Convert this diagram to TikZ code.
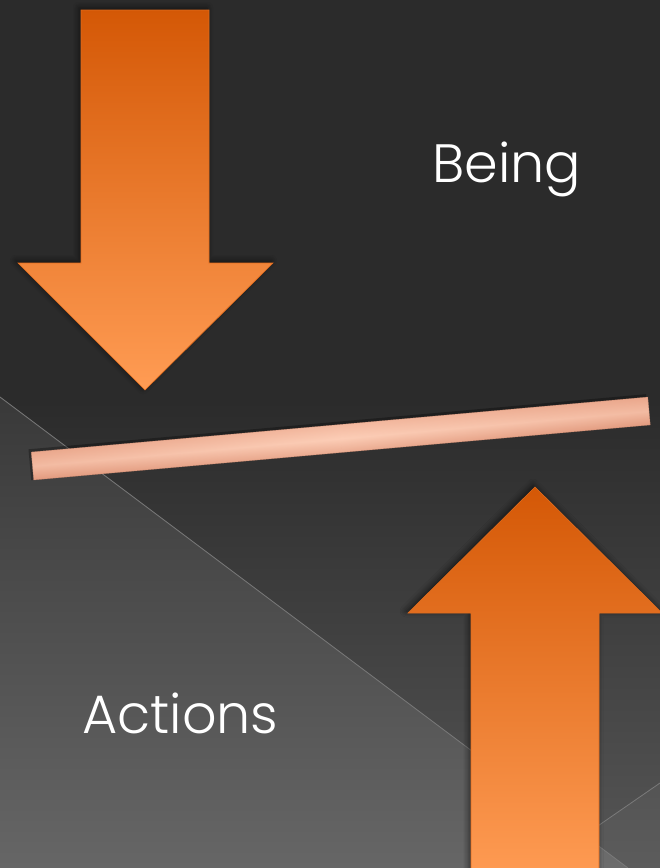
\documentclass[tikz,border=0pt]{standalone}
\usepackage{fontspec}
\newfontfamily\gothic{Poppins Light}
\usetikzlibrary{shadows.blur}
\definecolor{bgdark}{HTML}{2B2B2B}
\definecolor{bgbottom}{HTML}{565656}
\definecolor{lowtop}{HTML}{393939}
\definecolor{lowbottom}{HTML}{666666}
\definecolor{seam}{HTML}{7A7A7A}
\definecolor{ordark}{HTML}{D45806}
\definecolor{orlight}{HTML}{FF9C54}
\definecolor{bartop}{HTML}{EFAF94}
\definecolor{barmid}{HTML}{FCCDB6}
\definecolor{barbot}{HTML}{E29A7E}
\tikzset{
  bigarrow/.style={top color=ordark, bottom color=orlight, draw=ordark!70!orlight, line width=0.6pt,
    blur shadow={shadow xshift=-2pt, shadow yshift=2pt, shadow blur steps=6, shadow blur radius=6pt, shadow opacity=60}},
  label/.style={text=white, font=\gothic\fontsize{54}{58}\selectfont, inner sep=0pt, anchor=base west},
  seamline/.style={draw=seam, line width=0.8pt}
}
\begin{document}
\begin{tikzpicture}[x=1pt,y=1pt]
\useasboundingbox (0,0) rectangle (660,-868);
% background
\fill[bgdark] (0,0) rectangle (660,-400);
\shade[top color=bgdark, bottom color=bgbottom] (0,-400) rectangle (660,-868);
\shade[top color=lowtop, bottom color=lowbottom] (0,-397) -- (628,-868) -- (0,-868) -- cycle;
\fill[white, opacity=0.04] (537,-868) -- (660,-783) -- (660,-868) -- cycle;
\coordinate (s1) at (0,-397);
\coordinate (s2) at (628,-868);
\coordinate (s3) at (537,-868);
\coordinate (s4) at (660,-783);
\draw[seamline] (s1) -- (s2);
\draw[seamline] (s3) -- (s4);
% down arrow
\path[bigarrow] (81,-10) -- (209,-10) -- (209,-263) -- (273,-263) -- (145,-390) -- (18,-263) -- (81,-263) -- cycle;
% up arrow
\path[bigarrow] (535,-487) -- (662,-613) -- (599,-613) -- (599,-880) -- (471,-880) -- (471,-613) -- (408,-613) -- cycle;
% bar
\begin{scope}[transform canvas={shift={(340.75pt,-438.5pt)}, rotate=5.1}]
  \fill[black, opacity=0.3] (-312,-14) rectangle (308,17);
  \shade[top color=bartop, bottom color=barbot, middle color=barmid] (-309.5,-14) rectangle (309.5,14);
  \shade[left color=barbot, right color=barmid, opacity=0.35] (-309.5,-14) rectangle (0,14);
  \shade[left color=barmid, right color=barbot, opacity=0.35] (0,-14) rectangle (309.5,14);
  \draw[barbot!80!black, line width=0.5pt, opacity=0.5] (-309.5,-14) rectangle (309.5,14);
\end{scope}
% texts
\node[label] (being) at (432,-182) {Being};
\node[label] (actions) at (82,-733) {Actions};
\end{tikzpicture}
\end{document}
